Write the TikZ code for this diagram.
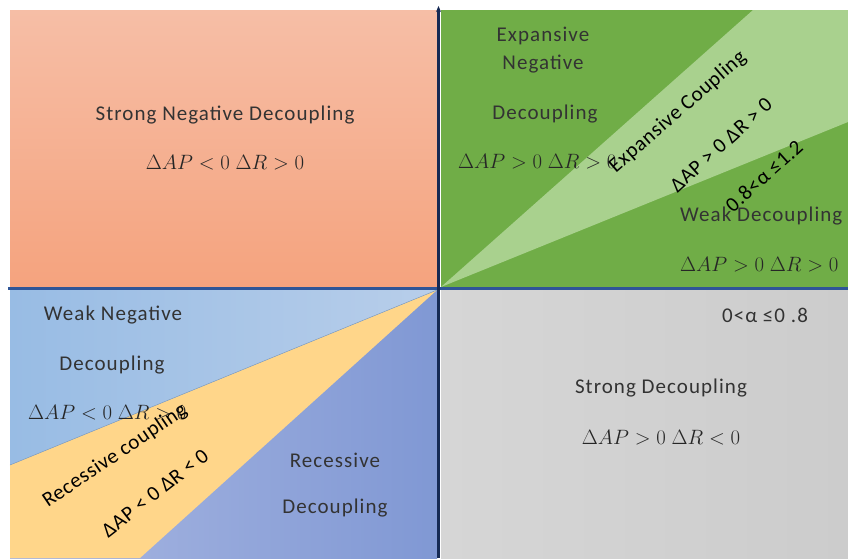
\documentclass[tikz,border=0pt]{standalone}
\usepackage{fontspec}
\setmainfont{Carlito}
\usepackage{tikz}
\usetikzlibrary{arrows.meta}
\definecolor{salmonA}{RGB}{246,190,166}
\definecolor{salmonB}{RGB}{245,163,126}
\definecolor{grDark}{RGB}{112,173,71}
\definecolor{grLight}{RGB}{169,209,142}
\definecolor{greyA}{RGB}{214,214,214}
\definecolor{greyB}{RGB}{204,204,204}
\definecolor{blueA}{RGB}{152,188,228}
\definecolor{blueB}{RGB}{184,206,234}
\definecolor{purpA}{RGB}{170,184,226}
\definecolor{purpB}{RGB}{128,152,212}
\definecolor{yel}{RGB}{255,214,138}
\definecolor{axisV}{RGB}{22,42,84}
\definecolor{axisH}{RGB}{47,85,151}
\tikzset{
    lbl/.style={font=\fontsize{21}{25}\selectfont\addfontfeature{LetterSpace=5}, text=black!80, inner sep=0pt},
    eqn/.style={font=\fontsize{22}{26}\selectfont, text=black!85, inner sep=0pt},
    slant/.style={font=\fontsize{21}{25}\selectfont\addfontfeature{LetterSpace=3}, text=black, inner sep=0pt, rotate=#1} }

\begin{document}
\begin{tikzpicture}[x=1pt,y=-1pt]
  \useasboundingbox (0,0) rectangle (848,558);
  \clip (0,0) rectangle (848,558);

% quadrants
  \shade [top color=salmonA, bottom color=salmonB] (10,10) rectangle (437,287);
  \fill [grDark] (441,10) rectangle (848,287);
  \fill [grLight] (441,287) -- (753,10) -- (848,10) -- (848,122) -- cycle;
  \shade [left color=greyA, right color=greyB] (441,290) rectangle (848,558);
  \shade [left color=purpA, right color=purpB] (10,290) rectangle (437,558);
  \fill [yel] (437,290) -- (10,465) -- (10,558) -- (140,558) -- cycle;
  \shade [left color=blueA, right color=blueB] (437,290) -- (10,290) -- (10,465) -- cycle;
  \draw [blueA!80!black, line width=0.4pt] (437,290) -- (10,465);

% axes
  \draw [axisH, line width=2.5pt] (8,288.5) -- (848,288.5);
  \draw [axisV, line width=2.8pt, -{Stealth[length=6pt,width=5pt]}] (438.5,558) -- (438.5,6);

% top left
  \node [lbl] (snd) at (225,115) {Strong Negative Decoupling};
  \node [eqn] (snd-eq) at (225,163) {$\Delta AP<0\;\Delta R>0$};

% top right
  \node [lbl] (end1) at (543,36) {Expansive};
  \node [lbl] (end2) at (543,64) {Negative};
  \node [lbl] (end3) at (545,114) {Decoupling};
  \node [eqn, anchor=west] (end-eq) at (458,162) {$\Delta AP>0\;\Delta R>0$};
  \node [lbl, anchor=west] (wd) at (680,216) {Weak Decoupling};
  \node [eqn, anchor=west] (wd-eq) at (680,265) {$\Delta AP>0\;\Delta R>0$};
  \node [slant=41] (ec) at (678,112) {Expansive Coupling};
  \node [slant=42] (ec-eq) at (721,145) {ΔAP > 0 ΔR > 0};
  \node [slant=42] (ec-a) at (764,176) {0.8<α ≤1.2};

% bottom right
  \node [lbl] (wd-a) at (765,315) {0<α ≤0 .8};
  \node [lbl] (sd) at (661,388) {Strong Decoupling};
  \node [eqn] (sd-eq) at (661,438) {$\Delta AP>0\;\Delta R<0$};

% bottom left
  \node [lbl] (wnd1) at (113,315) {Weak Negative};
  \node [lbl] (wnd2) at (112,365) {Decoupling};
  \node [eqn, anchor=west] (wnd-eq) at (28,413) {$\Delta AP<0\;\Delta R>0$};
  \node [lbl] (rd1) at (335,460) {Recessive};
  \node [lbl] (rd2) at (335,508) {Decoupling};
  \node [slant=34] (rc) at (115,456) {Recessive coupling};
  \node [slant=38] (rc-eq) at (155,493) {ΔAP < 0 ΔR < 0};

\end{tikzpicture}
\end{document}
